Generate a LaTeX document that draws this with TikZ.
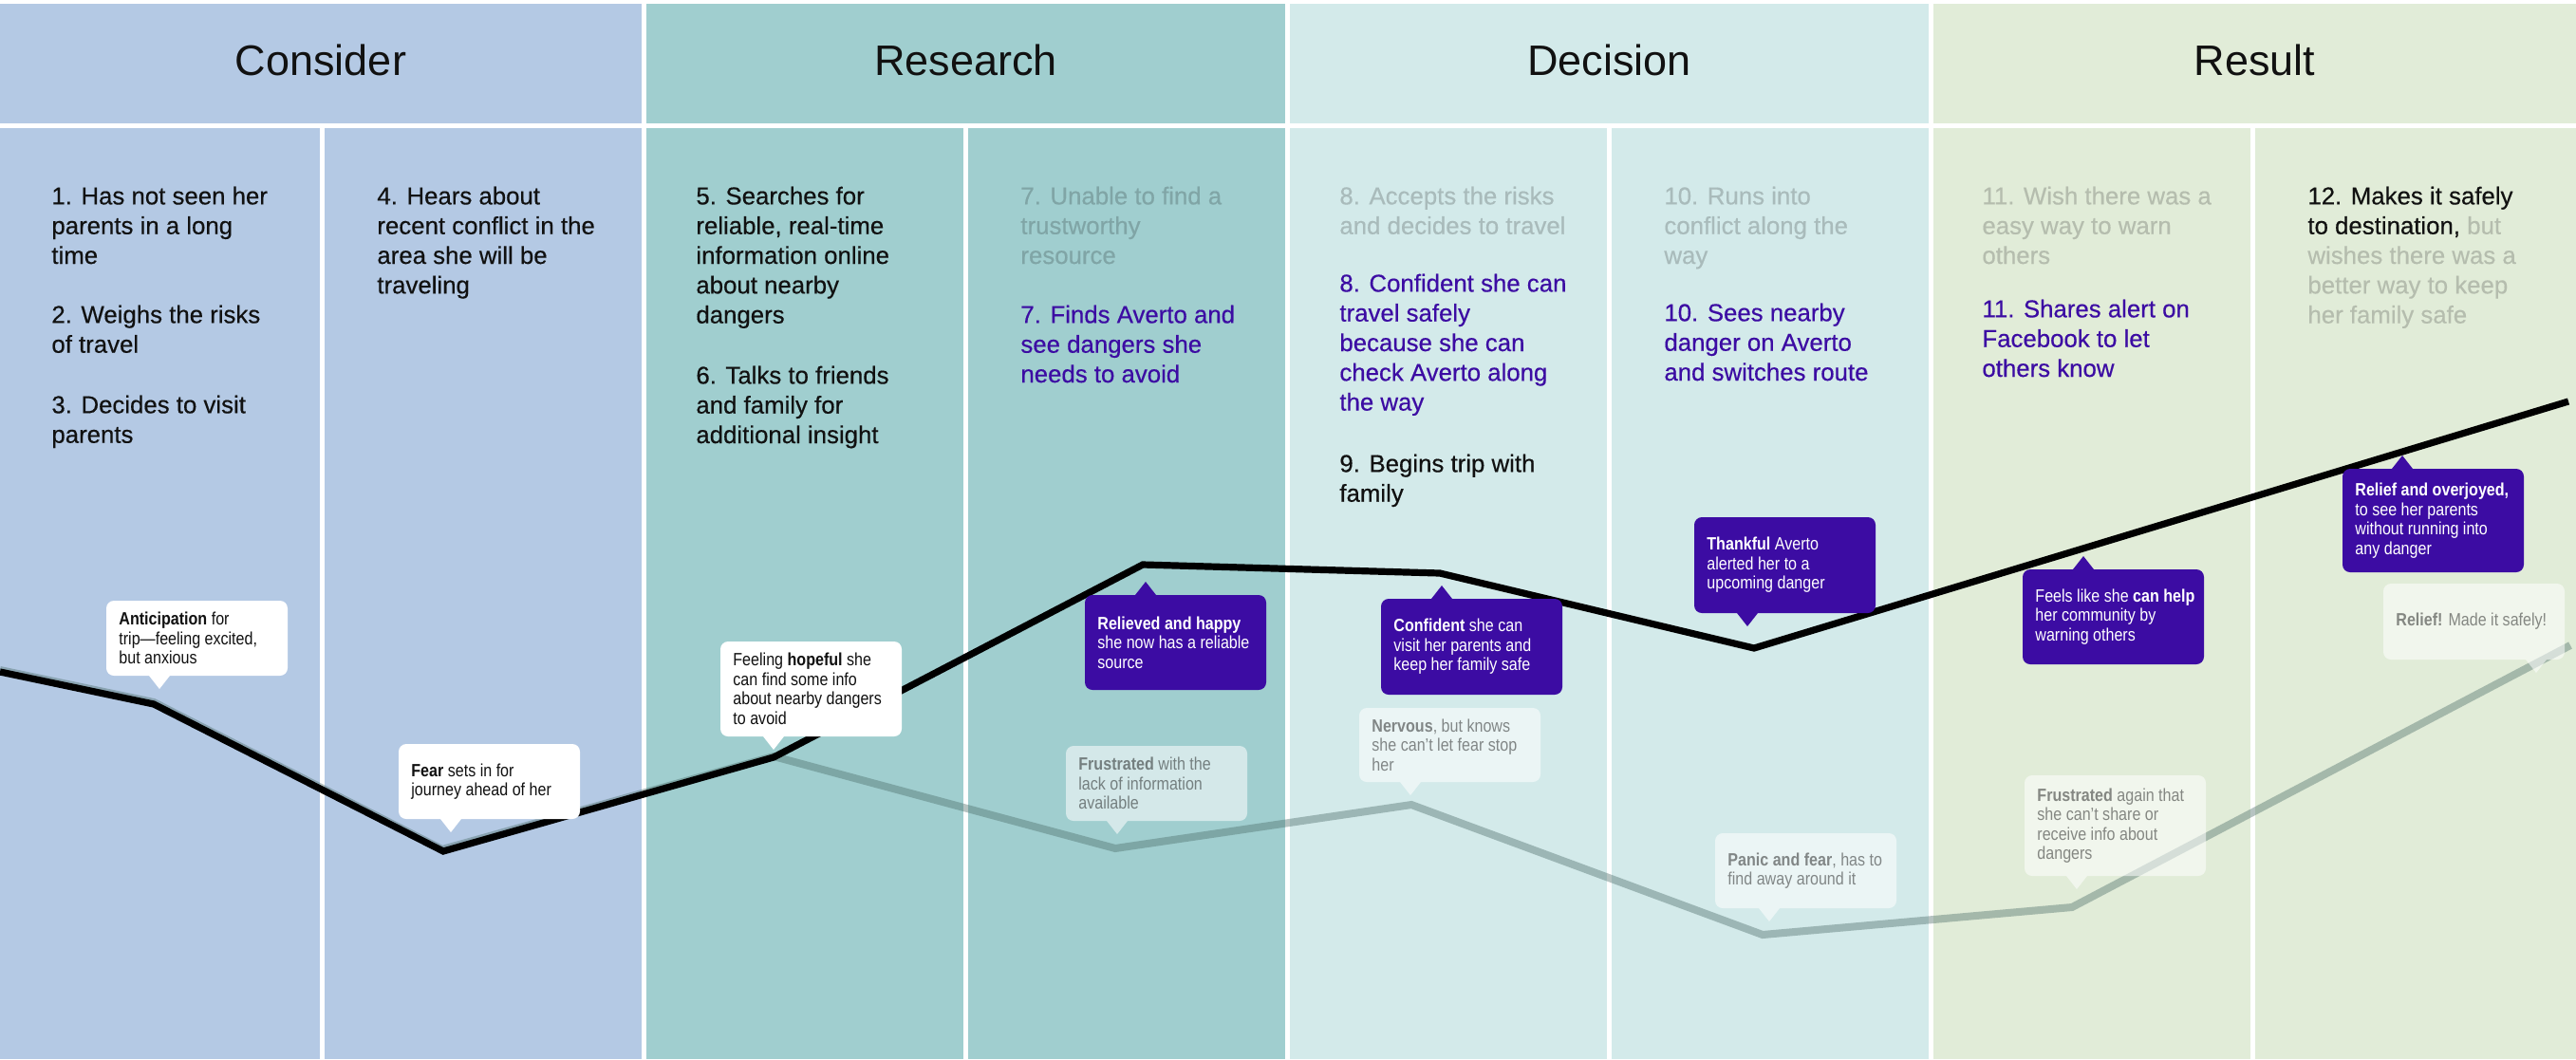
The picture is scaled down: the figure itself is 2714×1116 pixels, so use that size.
\documentclass[tikz,border=0pt]{standalone}
\usepackage{fontspec}
\setmainfont{Liberation Sans}
\newfontfamily\callfont{Liberation Sans}[FakeStretch=0.86]
\newfontfamily\bodyfont{Liberation Sans}[FakeBold=0.4]
\definecolor{cConsider}{HTML}{B4C9E4}
\definecolor{cResearch}{HTML}{A0CECF}
\definecolor{cDecision}{HTML}{D3EAEA}
\definecolor{cResult}{HTML}{E1ECD8}
\definecolor{purp}{HTML}{3C0CA3}
\definecolor{ink}{HTML}{111111}
\definecolor{fadeRc}{HTML}{80A5A6}
\definecolor{fadeDc}{HTML}{A9BBBB}
\definecolor{fadeSc}{HTML}{B5BDAE}
\definecolor{lineg}{HTML}{4A6A66}
\newcommand\fs{\rule{0pt}{10pt}}
\newcommand\caldown[7]{%
  \fill[#6] [rounded corners=4pt] (#2,#3) rectangle ++(191,#4) [sharp corners] (#5-11,#3+#4) -- (#5,#3+#4+14) -- (#5+11,#3+#4) -- cycle;
  \node[calltext,#6text] (#1) at (#2+13,#3+#4/2) {#7};}
\newcommand\calup[7]{%
  \fill[#6] [rounded corners=4pt] (#2,#3) rectangle ++(191,#4) [sharp corners] (#5-11,#3) -- (#5,#3-14) -- (#5+11,#3) -- cycle;
  \node[calltext,#6text] (#1) at (#2+13,#3+#4/2) {#7};}
\tikzset{
  body/.style={anchor=north west, inner sep=0pt, align=left, font=\bodyfont\fontsize{12.9}{15.65}\selectfont, text=ink},
  bodyfR/.style={body, text=fadeRc},
  bodyfD/.style={body, text=fadeDc},
  bodyfS/.style={body, text=fadeSc},
  bodyP/.style={body, text=purp},
  head/.style={anchor=base, inner sep=0pt, font=\fontsize{22.5}{27}\selectfont, text=ink},
  calltext/.style={anchor=west, inner sep=0pt, align=left, font=\callfont\fontsize{9.35}{10.25}\selectfont},
  whitebox/.style={fill=white}, whiteboxtext/.style={text=ink},
  purplebox/.style={fill=purp}, purpleboxtext/.style={text=white},
  fadebox/.style={fill=white, fill opacity=0.55}, fadeboxtext/.style={text=black, text opacity=0.45},
  blackline/.style={line width=3.6pt, draw=black},
  grayline/.style={line width=4pt, draw=lineg, draw opacity=0.4},
}
\begin{document}
\begin{tikzpicture}[x=0.5pt,y=-0.5pt]
\useasboundingbox (0,0) rectangle (2714,1116);
\fill[white] (0,0) rectangle (2714,1116);
% phase headers
\fill[cConsider] (0,4) rectangle (676,130);
\fill[cResearch] (681,4) rectangle (1354,130);
\fill[cDecision] (1359,4) rectangle (2032,130);
\fill[cResult] (2037,4) rectangle (2714,130);
% columns
\fill[cConsider] (0,135) rectangle (337,1116);
\fill[cConsider] (342,135) rectangle (676,1116);
\fill[cResearch] (681,135) rectangle (1015,1116);
\fill[cResearch] (1020,135) rectangle (1354,1116);
\fill[cDecision] (1359,135) rectangle (1693,1116);
\fill[cDecision] (1698,135) rectangle (2032,1116);
\fill[cResult] (2037,135) rectangle (2371,1116);
\fill[cResult] (2376,135) rectangle (2714,1116);
% header texts
\node[head] (hConsider) at (338,79) {Consider};
\node[head] (hResearch) at (1017.5,79) {Research};
\node[head] (hDecision) at (1695.5,79) {Decision};
\node[head] (hResult) at (2375.5,79) {Result};
% body texts
\node[body] (s1) at (54,195) {\fs 1. Has not seen her\\parents in a long\\time};
\node[body] (s2) at (54,320) {\fs 2. Weighs the risks\\of travel};
\node[body] (s3) at (54,415) {\fs 3. Decides to visit\\parents};
\node[body] (s4) at (397,195) {\fs 4. Hears about\\recent conflict in the\\area she will be\\traveling};
\node[body] (s5) at (733,195) {\fs 5. Searches for\\reliable, real-time\\information online\\about nearby\\dangers};
\node[body] (s6) at (733,384) {\fs 6. Talks to friends\\and family for\\additional insight};
\node[bodyfR] (s7a) at (1075,195) {\fs 7. Unable to find a\\trustworthy\\resource};
\node[bodyP] (s7b) at (1075,320) {\fs 7. Finds Averto and\\see dangers she\\needs to avoid};
\node[bodyfD] (s8a) at (1411,195) {\fs 8. Accepts the risks\\and decides to travel};
\node[bodyP] (s8b) at (1411,287) {\fs 8. Confident she can\\travel safely\\because she can\\check Averto along\\the way};
\node[body] (s9) at (1411,477) {\fs 9. Begins trip with\\family};
\node[bodyfD] (s10a) at (1753,195) {\fs 10. Runs into\\conflict along the\\way};
\node[bodyP] (s10b) at (1753,318) {\fs 10. Sees nearby\\danger on Averto\\and switches route};
\node[bodyfS] (s11a) at (2088,195) {\fs 11. Wish there was a\\easy way to warn\\others};
\node[bodyP] (s11b) at (2088,314) {\fs 11. Shares alert on\\Facebook to let\\others know};
\node[bodyfS] (s12) at (2431,195) {\fs\textcolor{ink}{12. Makes it safely}\\\textcolor{ink}{to destination,} but\\wishes there was a\\better way to keep\\her family safe};
% curve vertices
\coordinate (k1) at (0,708);
\coordinate (k2) at (162,742);
\coordinate (k3) at (467,897);
\coordinate (k4) at (815,798);
\coordinate (k5) at (1204,595);
\coordinate (k6) at (1517,604);
\coordinate (k7) at (1848,683);
\coordinate (k8) at (2706,423);
\coordinate (g1) at (0,706);
\coordinate (g2) at (162,740);
\coordinate (g3) at (466,895);
\coordinate (g4) at (815,797);
\coordinate (g5) at (1175,894);
\coordinate (g6) at (1487,848);
\coordinate (g7) at (1857,985);
\coordinate (g8) at (2183,956);
\coordinate (g9) at (2708,680);
\draw[grayline] (g1) -- (g2) -- (g3) -- (g4) -- (g5) -- (g6) -- (g7) -- (g8) -- (g9);
\draw[blackline] (k1) -- (k2) -- (k3) -- (k4) -- (k5) -- (k6) -- (k7) -- (k8);
% callouts
\caldown{cA}{112}{633}{79}{168}{whitebox}{\textbf{Anticipation} for\\trip—feeling excited,\\but anxious}
\caldown{cB}{420}{784}{79}{475}{whitebox}{\textbf{Fear} sets in for\\journey ahead of her}
\caldown{cC}{759}{676}{100}{815}{whitebox}{Feeling \textbf{hopeful} she\\can find some info\\about nearby dangers\\to avoid}
\calup{cD}{1143}{627}{100}{1207}{purplebox}{\textbf{Relieved and happy}\\she now has a reliable\\source}
\caldown{cE}{1123}{786}{79}{1177}{fadebox}{\textbf{Frustrated} with the\\lack of information\\available}
\calup{cF}{1455}{631}{101}{1519}{purplebox}{\textbf{Confident} she can\\visit her parents and\\keep her family safe}
\caldown{cG}{1785}{545}{101}{1841}{purplebox}{\textbf{Thankful} Averto\\alerted her to a\\upcoming danger}
\calup{cH}{2131}{600}{100}{2195}{purplebox}{Feels like she \textbf{can help}\\her community by\\warning others}
\calup{cI}{2468}{494}{109}{2531}{purplebox}{\textbf{Relief and overjoyed,}\\to see her parents\\without running into\\any danger}
\caldown{cJ}{1432}{746}{78}{1486}{fadebox}{\textbf{Nervous}, but knows\\she can’t let fear stop\\her}
\caldown{cK}{1807}{878}{79}{1864}{fadebox}{\textbf{Panic and fear}, has to\\find away around it}
\caldown{cL}{2133}{817}{106}{2188}{fadebox}{\textbf{Frustrated} again that\\she can’t share or\\receive info about\\dangers}
\caldown{cM}{2511}{615}{80}{2672}{fadebox}{\textbf{Relief!} Made it safely!}
\end{tikzpicture}
\end{document}
